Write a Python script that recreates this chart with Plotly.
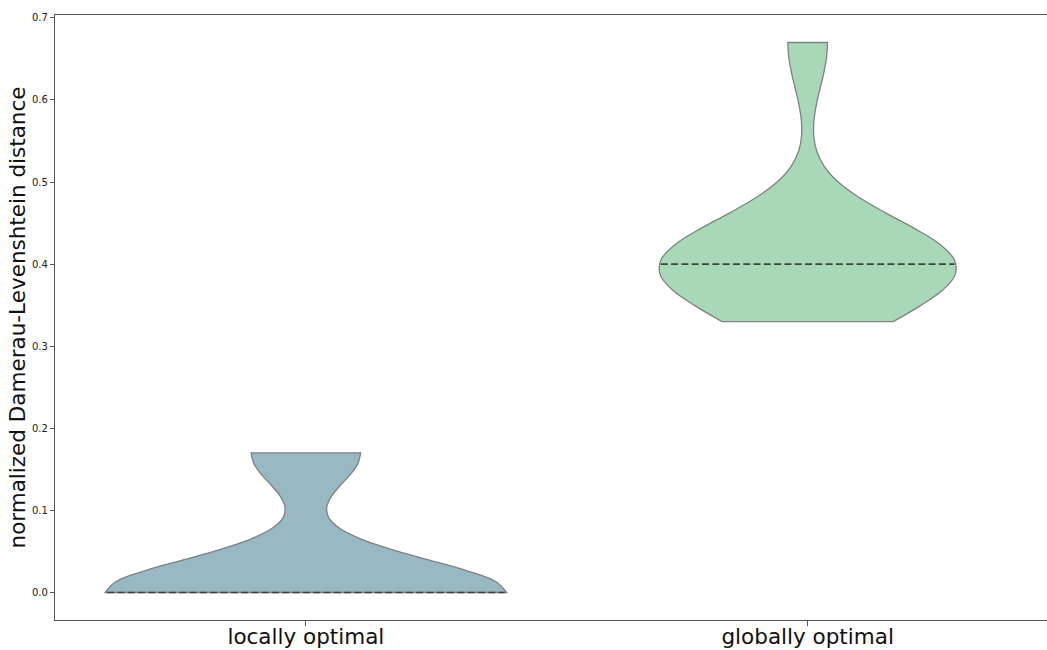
import numpy as np
import plotly.graph_objects as go

# ---- data ----
categories = ["locally optimal", "globally optimal"]
local_values = [0.0, 0.0, 0.0, 0.0, 0.0, 0.0, 0.0, 0.0, 0.0, 0.0, 0.0, 0.17, 0.17, 0.17]
global_values = [0.33, 0.4, 0.4, 0.4, 0.4, 0.4, 0.4, 0.4, 0.67]
bandwidths = [0.04, 0.0572]
fill_colors = ["#98b9c1", "#a9d8b8"]
ytick_vals = [0.0, 0.1, 0.2, 0.3, 0.4, 0.5, 0.6, 0.7]
ytick_text = ["0.0", "0.1", "0.2", "0.3", "0.4", "0.5", "0.6", "0.7"]

series = [local_values, global_values]
half_width = 0.4  # half of the violin slot (seaborn width 0.8)
FONT = "DejaVu Sans"


def kde(vals, h, t):
    v = np.asarray(vals, dtype=float)
    t = np.atleast_1d(np.asarray(t, dtype=float))
    z = (t[:, None] - v[None, :]) / h
    return np.exp(-0.5 * z ** 2).sum(axis=1) / (len(v) * h * np.sqrt(2 * np.pi))


# common scale across violins (area scaling)
max_dens = 0.0
for vals, h in zip(series, bandwidths):
    grid = np.linspace(min(vals), max(vals), 2000)
    max_dens = max(max_dens, kde(vals, h, grid).max())

fig = go.Figure()
for i, (vals, h) in enumerate(zip(series, bandwidths)):
    fig.add_trace(go.Violin(
        x0=i, y=vals, name=categories[i],
        bandwidth=h, spanmode="hard",
        scalegroup="all", scalemode="width",
        points=False,
        box_visible=False, meanline_visible=False,
        fillcolor=fill_colors[i], opacity=1,
        line=dict(color="#808080", width=1.3),
        hoverinfo="skip",
    ))

for i, (vals, h) in enumerate(zip(series, bandwidths)):
    med = float(np.median(vals))
    half = half_width * kde(vals, h, med)[0] / max_dens * 0.99
    fig.add_trace(go.Scatter(
        x=[i - half, i + half], y=[med, med], mode="lines",
        line=dict(color="#404040", width=1.7, dash="7px,3.3px"),
        hoverinfo="skip", showlegend=False,
    ))

fig.update_layout(
    width=1047, height=650,
    margin=dict(l=55, r=0, t=15, b=30, autoexpand=False),
    plot_bgcolor="white", paper_bgcolor="white",
    showlegend=False, violinmode="overlay",
    violingap=0.2, violingroupgap=0,
    font=dict(family=FONT, color="#222222"),
)
fig.update_xaxes(
    range=[-0.5, 1.477], tickmode="array", tickvals=[0, 1], ticktext=categories,
    showline=True, mirror=True, linecolor="#555555", linewidth=1.2,
    ticks="outside", ticklen=5, tickcolor="#555555",
    showgrid=False, zeroline=False, automargin=False,
    ticklabelstandoff=-8,
    tickfont=dict(family=FONT, size=21.5, color="#111111"),
)
fig.update_yaxes(
    range=[-0.0335, 0.7035], tickmode="array", tickvals=ytick_vals, ticktext=ytick_text,
    showline=True, mirror=False, linecolor="#555555", linewidth=1.2,
    ticks="outside", ticklen=4, tickcolor="#555555",
    showgrid=False, zeroline=False, automargin=False,
    tickfont=dict(family=FONT, size=10, color="#222222"),
    title=dict(text="normalized Damerau-Levenshtein distance",
               font=dict(family=FONT, size=21.5, color="#111111"), standoff=0),
)

fig.write_html("out.html")
